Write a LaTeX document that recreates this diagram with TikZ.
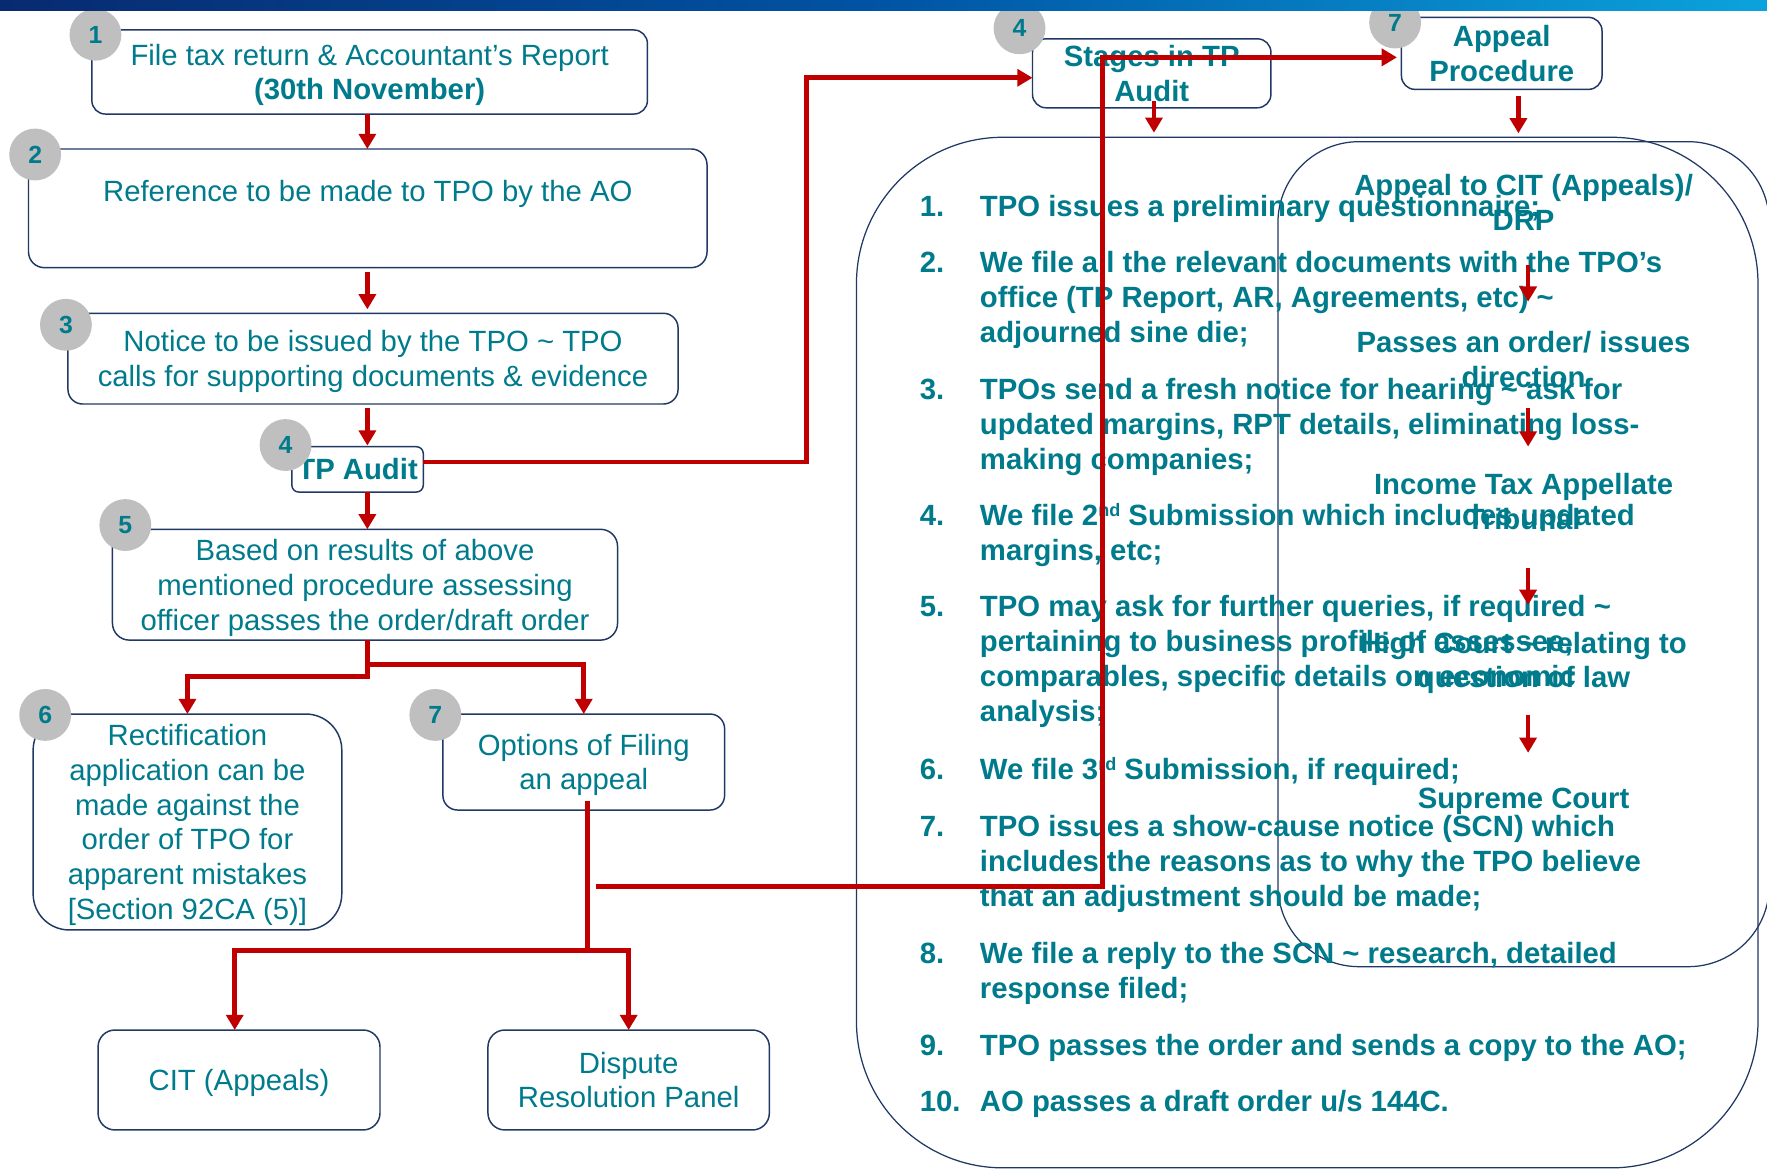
\documentclass[tikz,border=0pt]{standalone}
\usepackage{fontspec}
\setmainfont{Liberation Sans}
\usetikzlibrary{arrows.meta}

\definecolor{tealtext}{HTML}{007B8C}
\definecolor{boxline}{HTML}{1F3864}
\definecolor{linkred}{HTML}{C00000}
\definecolor{badgegray}{HTML}{BFBFBF}
\definecolor{barleft}{HTML}{082A70}
\definecolor{barmid}{HTML}{0054A4}
\definecolor{barright}{HTML}{0BA3DD}

% uniform line strut: 24.4pt above the baseline, 5.8pt below
\newcommand{\ls}{\rule[-5.8pt]{0pt}{30.2pt}}
% raised ordinal suffix
\newcommand{\ordsup}[1]{\raisebox{8pt}{\fontsize{16}{16}\selectfont #1}}

\begin{document}
\begin{tikzpicture}[x=1pt, y=-1pt,
  every node/.style={inner sep=0pt, outer sep=0pt},
  body/.style={text=tealtext, font=\fontsize{26}{31}\selectfont},
  bodybold/.style={text=tealtext, font=\fontsize{26}{31}\selectfont\bfseries},
  panel/.style={text=tealtext, font=\fontsize{26}{30.5}\selectfont\bfseries, align=center, anchor=north},
  listno/.style={bodybold, anchor=north west},
  listtext/.style={bodybold, anchor=north west, align=left},
  stepbox/.style={draw=boxline, line width=1.3pt, fill=white, rounded corners=#1, align=center},
  stepbox/.default=13pt,
  bigbox/.style={draw=boxline, line width=1.1pt, rounded corners=#1},
  badge/.style={circle, fill=badgegray, minimum size=46pt, text=tealtext, font=\fontsize{22}{22}\selectfont\bfseries},
  conn/.style={draw=linkred, line width=4.3pt},
  tipped/.style={-{Triangle[width=15pt,length=13.5pt]}},
  sarrow/.style={draw=linkred, line width=4pt, -{Triangle[width=15pt,length=13.5pt]}},
]
\useasboundingbox (0,0) rectangle (1568,1037);
\fill[white] (0,0) rectangle (1568,1037);

% ---- large rounded panels on the right ----
\node[bigbox=130pt, minimum width=800pt, minimum height=914.5pt] (stagelist) at (1160,579.05) {};
\node[bigbox=72pt, minimum width=436pt, minimum height=732.1pt] (appeallist) at (1352,491.75) {};

% ---- flow boxes on the left ----
\node[stepbox=12pt, body, minimum width=493pt, minimum height=74.6pt] (b1) at (328,63.9)
  {\ls File tax return \& Accountant’s Report\\ \ls\textbf{(30th November)}};
\node[stepbox=14pt, body, minimum width=602.1pt, minimum height=105.3pt] (b2) at (326.35,184.85)
  {\ls Reference to be made to TPO by the AO\\ \ls};
\node[stepbox=13pt, body, minimum width=541.4pt, minimum height=80.5pt] (b3) at (331,318.25)
  {\ls Notice to be issued by the TPO \textasciitilde{} TPO\\ \ls calls for supporting documents \& evidence};
\node[stepbox=6pt, bodybold, minimum width=116.6pt, minimum height=40.2pt] (b4) at (317.3,416.5)
  {\ls TP Audit};
\node[stepbox=15pt, body, minimum width=448.2pt, minimum height=98.3pt] (b5) at (323.9,518.85)
  {\ls Based on results of above\\ \ls mentioned procedure assessing\\ \ls officer passes the order/draft order};
\node[stepbox=32pt, body, minimum width=273.9pt, minimum height=191.6pt] (b6) at (166.35,729.4)
  {\ls Rectification\\ \ls application can be\\ \ls made against the\\ \ls order of TPO for\\ \ls apparent mistakes\\ \ls [Section 92CA (5)]};
\node[stepbox=13pt, body, minimum width=250pt, minimum height=85.2pt] (b7) at (518,676.2)
  {\ls Options of Filing\\ \ls an appeal};
\node[stepbox=15pt, body, minimum width=250.2pt, minimum height=88.7pt] (cit) at (212.1,958.35)
  {\ls CIT (Appeals)};
\node[stepbox=15pt, body, minimum width=249.7pt, minimum height=88.7pt] (drp) at (557.85,958.35)
  {\ls Dispute\\ \ls Resolution Panel};

% ---- headings above the panels ----
\node[stepbox=12pt, bodybold, minimum width=211.6pt, minimum height=57.9pt] (stages) at (1022,65.05)
  {\ls Stages in TP\\ \ls Audit};
\node[stepbox=12pt, bodybold, minimum width=178pt, minimum height=63.9pt] (appeal) at (1332.6,47.35)
  {\ls Appeal\\ \ls Procedure};

% ---- numbered stages of the audit ----
\node[listno] (s1n) at (816.3,167.9) {\ls 1.};
\node[listtext] (s1) at (869.6,167.9) {\ls TPO issues a preliminary questionnaire;};
\node[listno] (s2n) at (816.3,217.6) {\ls 2.};
\node[listtext] (s2) at (869.6,217.6) {\ls We file all the relevant documents with the TPO’s\\ \ls office (TP Report, AR, Agreements, etc) \textasciitilde\\ \ls adjourned sine die;};
\node[listno] (s3n) at (816.3,330.1) {\ls 3.};
\node[listtext] (s3) at (869.6,330.1) {\ls TPOs send a fresh notice for hearing \textasciitilde{} ask for\\ \ls updated margins, RPT details, eliminating loss-\\ \ls making companies;};
\node[listno] (s4n) at (816.3,441.6) {\ls 4.};
\node[listtext] (s4) at (869.6,441.6) {\ls We file 2\ordsup{nd} Submission which includes updated\\ \ls margins, etc;};
\node[listno] (s5n) at (816.3,523.1) {\ls 5.};
\node[listtext] (s5) at (869.6,523.1) {\ls TPO may ask for further queries, if required \textasciitilde\\ \ls pertaining to business profile of assessee,\\ \ls comparables, specific details on economic\\ \ls analysis;};
\node[listno] (s6n) at (816.3,667.3) {\ls 6.};
\node[listtext] (s6) at (869.6,667.3) {\ls We file 3\ordsup{rd} Submission, if required;};
\node[listno] (s7n) at (816.3,717.6) {\ls 7.};
\node[listtext] (s7) at (869.6,717.6) {\ls TPO issues a show-cause notice (SCN) which\\ \ls includes the reasons as to why the TPO believe\\ \ls that an adjustment should be made;};
\node[listno] (s8n) at (816.3,830.6) {\ls 8.};
\node[listtext] (s8) at (869.6,830.6) {\ls We file a reply to the SCN \textasciitilde{} research, detailed\\ \ls response filed;};
\node[listno] (s9n) at (816.3,912.6) {\ls 9.};
\node[listtext] (s9) at (869.6,912.6) {\ls TPO passes the order and sends a copy to the AO;};
\node[listno] (s10n) at (816.3,961.6) {\ls 10.};
\node[listtext] (s10) at (869.6,961.6) {\ls AO passes a draft order u/s 144C.};

% ---- appeal ladder ----
\node[panel] (rp1) at (1352,149.5) {\ls Appeal to CIT (Appeals)/\\ \ls DRP};
\node[panel] (rp2) at (1352,288.6) {\ls Passes an order/ issues\\ \ls direction};
\node[panel] (rp3) at (1352,414.8) {\ls Income Tax Appellate\\ \ls Tribunal};
\node[panel] (rp4) at (1352,555.3) {\ls High Court \textasciitilde{} relating to\\ \ls question of law};
\node[panel] (rp5) at (1352,692.9) {\ls Supreme Court};

% ---- connectors ----
\coordinate (colA) at (326,0);
\draw[sarrow] (b1.south -| colA) -- (b2.north -| colA);
\draw[sarrow, shorten <=3.5pt, shorten >=3.5pt] (b2.south -| colA) -- (b3.north -| colA);
\draw[sarrow, shorten <=3.8pt, shorten >=1pt] (b3.south -| colA) -- (b4.north -| colA);
\draw[sarrow] (b4.south -| colA) -- (b5.north -| colA);

\coordinate (tpA) at (716,410);
\coordinate (tpB) at (716,69);
\draw[conn, tipped] (b4.east |- tpA) -- (tpA) -- (tpB) -- (stages.west |- tpB);

\coordinate (colS) at (1024,0);
\draw[sarrow, shorten <=-6pt, shorten >=4pt] (stages.south -| colS) -- (stagelist.north -| colS);
\coordinate (colP) at (1347.4,0);
\draw[sarrow, shorten <=5.7pt, shorten >=7.4pt] (appeal.south -| colP) -- (appeallist.north -| colP);

\coordinate (colR) at (1356,0);
\draw[sarrow, shorten <=24.8pt, shorten >=20.9pt] (rp1.south -| colR) -- (rp2.north -| colR);
\draw[sarrow, shorten <=13pt, shorten >=18.5pt] (rp2.south -| colR) -- (rp3.north -| colR);
\draw[sarrow, shorten <=28.8pt, shorten >=18.5pt] (rp3.south -| colR) -- (rp4.north -| colR);
\draw[sarrow, shorten <=18.5pt, shorten >=24.9pt] (rp4.south -| colR) -- (rp5.north -| colR);

\coordinate (fkL) at (326,600.4);
\coordinate (fkR) at (326,589.5);
\draw[conn, tipped] (b5.south -| fkL) -- (fkL) -| (b6.north);
\draw[conn, tipped] (fkR) -| (b7.north);

\coordinate (fk7) at (521.6,843.5);
\coordinate (citcol) at (208.3,0);
\draw[conn, shorten <=-7.8pt] (b7.south -| fk7) -- (fk7);
\draw[conn, tipped] (fk7) -- (fk7 -| citcol) -- (cit.north -| citcol);
\draw[conn, tipped] (fk7) -| (drp.north);

\coordinate (apStart) at (529,786.8);
\coordinate (apCorner) at (978.6,786.8);
\coordinate (apTop) at (978.6,50.9);
\draw[conn, tipped, shorten >=4pt] (apStart) -- (apCorner) -- (apTop) -- (appeal.west |- apTop);

% ---- step badges ----
\node[badge] (n1) at (84.7,30.8) {1};
\node[badge] (n2) at (31.2,137.1) {2};
\node[badge] (n3) at (58.5,288.2) {3};
\node[badge] (n4) at (253.4,394.9) {4};
\node[badge] (n5) at (111.2,465.9) {5};
\node[badge] (n6) at (40.1,634.4) {6};
\node[badge] (n7) at (386.3,634.4) {7};
\node[badge] (n4r) at (904.7,25.1) {4};
\node[badge] (n7r) at (1238,20) {7};

% ---- header band ----
\shade[left color=barleft, right color=barright, middle color=barmid] (0,0) rectangle (1568,9.5);
\end{tikzpicture}
\end{document}
